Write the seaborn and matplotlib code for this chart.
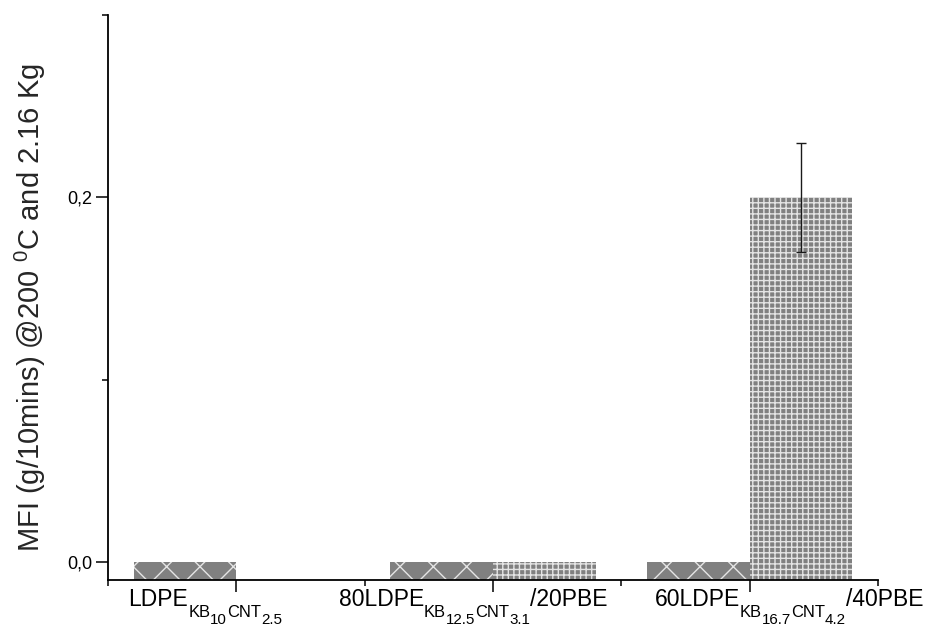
import numpy as np
import pandas as pd
import matplotlib
matplotlib.use("Agg")
import matplotlib.pyplot as plt
from matplotlib.transforms import blended_transform_factory
import seaborn as sns

# --- data -------------------------------------------------------------
group_pos = [1, 3, 5]
# each sample name as (text, script level) pieces: 0 = normal, 1 = subscript,
# 2 = subscript of a subscript
group_labels = [
    [("LDPE", 0), ("KB", 1), ("10", 2), ("CNT", 1), ("2.5", 2)],
    [("80LDPE", 0), ("KB", 1), ("12.5", 2), ("CNT", 1), ("3.1", 2), ("/20PBE", 0)],
    [("60LDPE", 0), ("KB", 1), ("16.7", 2), ("CNT", 1), ("4.2", 2), ("/40PBE", 0)],
]
series_names = ["series A", "series B"]
mfi_a = [0.0, 0.0, 0.0]
mfi_b = [np.nan, 0.0, 0.2]
err_b = [np.nan, np.nan, 0.03]

y_ticks = [0.0, 0.2]
y_tick_labels = ["0,0", "0,2"]
y_minor = [0.1, 0.3]
x_minor = [0, 2, 4, 6]

# --- layout -----------------------------------------------------------
y_lo, y_hi = -0.01, 0.30
label_left = [0.16, 1.797, 4.258]
label_size = 16.5
level_scale = {0: 1.0, 1: 0.72, 2: 0.66}
level_drop_pt = {0: 18.5, 1: 26.4, 2: 31.9}   # baseline below the x axis

sns.set_style("ticks")
plt.rcParams["font.family"] = ["Liberation Sans", "DejaVu Sans"]
plt.rcParams["mathtext.fontset"] = "custom"
plt.rcParams["mathtext.rm"] = "Liberation Sans"
plt.rcParams["mathtext.it"] = "Liberation Sans:italic"
plt.rcParams["mathtext.bf"] = "Liberation Sans:bold"
plt.rcParams["hatch.linewidth"] = 1.0

df = pd.DataFrame({
    "pos": group_pos * 2,
    "series": [series_names[0]] * 3 + [series_names[1]] * 3,
    "mfi": mfi_a + mfi_b,
})
# bars rise from the bottom of the axis
df["span"] = df["mfi"] - y_lo

fig = plt.figure(figsize=(9.3, 6.32), dpi=100)
ax = fig.add_axes([108 / 930, 1 - 580 / 632, 770 / 930, 565 / 632])

sns.barplot(data=df, x="pos", y="span", hue="series", hue_order=series_names,
            native_scale=True, palette=["#808080", "#808080"], errorbar=None,
            bottom=y_lo, legend=False, ax=ax)

for cont, hatch in zip(ax.containers, ["x", "+++"]):
    for p in cont:
        p.set_hatch(hatch)
        p.set_edgecolor("#e4e4e4")
        p.set_linewidth(0)

# error bar on the series B bars
cont_b = ax.containers[1]
for i, (v, e) in enumerate(zip(mfi_b, err_b)):
    if np.isnan(e):
        continue
    p = [q for q in cont_b if abs(q.get_x() + q.get_width() / 2 - group_pos[i]) < 1.0][0]
    xc = p.get_x() + p.get_width() / 2
    ax.errorbar(xc, v, yerr=e, fmt="none", ecolor="#1a1a1a", elinewidth=1.0,
                capsize=3.6, capthick=1.0, zorder=5)

ax.set_xlim(0, 6)
ax.set_ylim(y_lo, y_hi)
ax.set_xticks(group_pos, labels=["", "", ""])
ax.set_xticks(x_minor, minor=True)
ax.set_yticks(y_ticks, labels=y_tick_labels)
ax.set_yticks(y_minor, minor=True)
ax.tick_params(axis="both", which="major", length=8.6, width=1.1, labelsize=13,
               color="black", labelcolor="black", direction="out", pad=3)
ax.tick_params(axis="both", which="minor", length=4.3, width=1.1, color="black",
               direction="out")
ax.set_xlabel("")
ax.set_ylabel(r"MFI (g/10mins) @200 $^{\mathregular{0}}$C and 2.16 Kg", fontsize=21)
ax.yaxis.set_label_coords(-0.078, 0.483)

for side in ["top", "right"]:
    ax.spines[side].set_visible(False)
for side in ["left", "bottom"]:
    ax.spines[side].set_linewidth(1.3)
    ax.spines[side].set_color("black")

# sample names with stacked subscripts, written piece by piece
trans = blended_transform_factory(ax.transData, ax.transAxes)
for xl, pieces in zip(label_left, group_labels):
    prev = None
    for text, level in pieces:
        kw = dict(textcoords="offset points", ha="left", va="baseline",
                  fontsize=label_size * level_scale[level], color="black",
                  annotation_clip=False)
        if prev is None:
            prev = ax.annotate(text, xy=(xl, 0), xycoords=trans,
                               xytext=(0, -level_drop_pt[level]), **kw)
        else:
            prev = ax.annotate(text, xy=(1, 0), xycoords=(prev, "axes fraction"),
                               xytext=(0, -level_drop_pt[level]), **kw)

fig.savefig("out.png", dpi=100)
